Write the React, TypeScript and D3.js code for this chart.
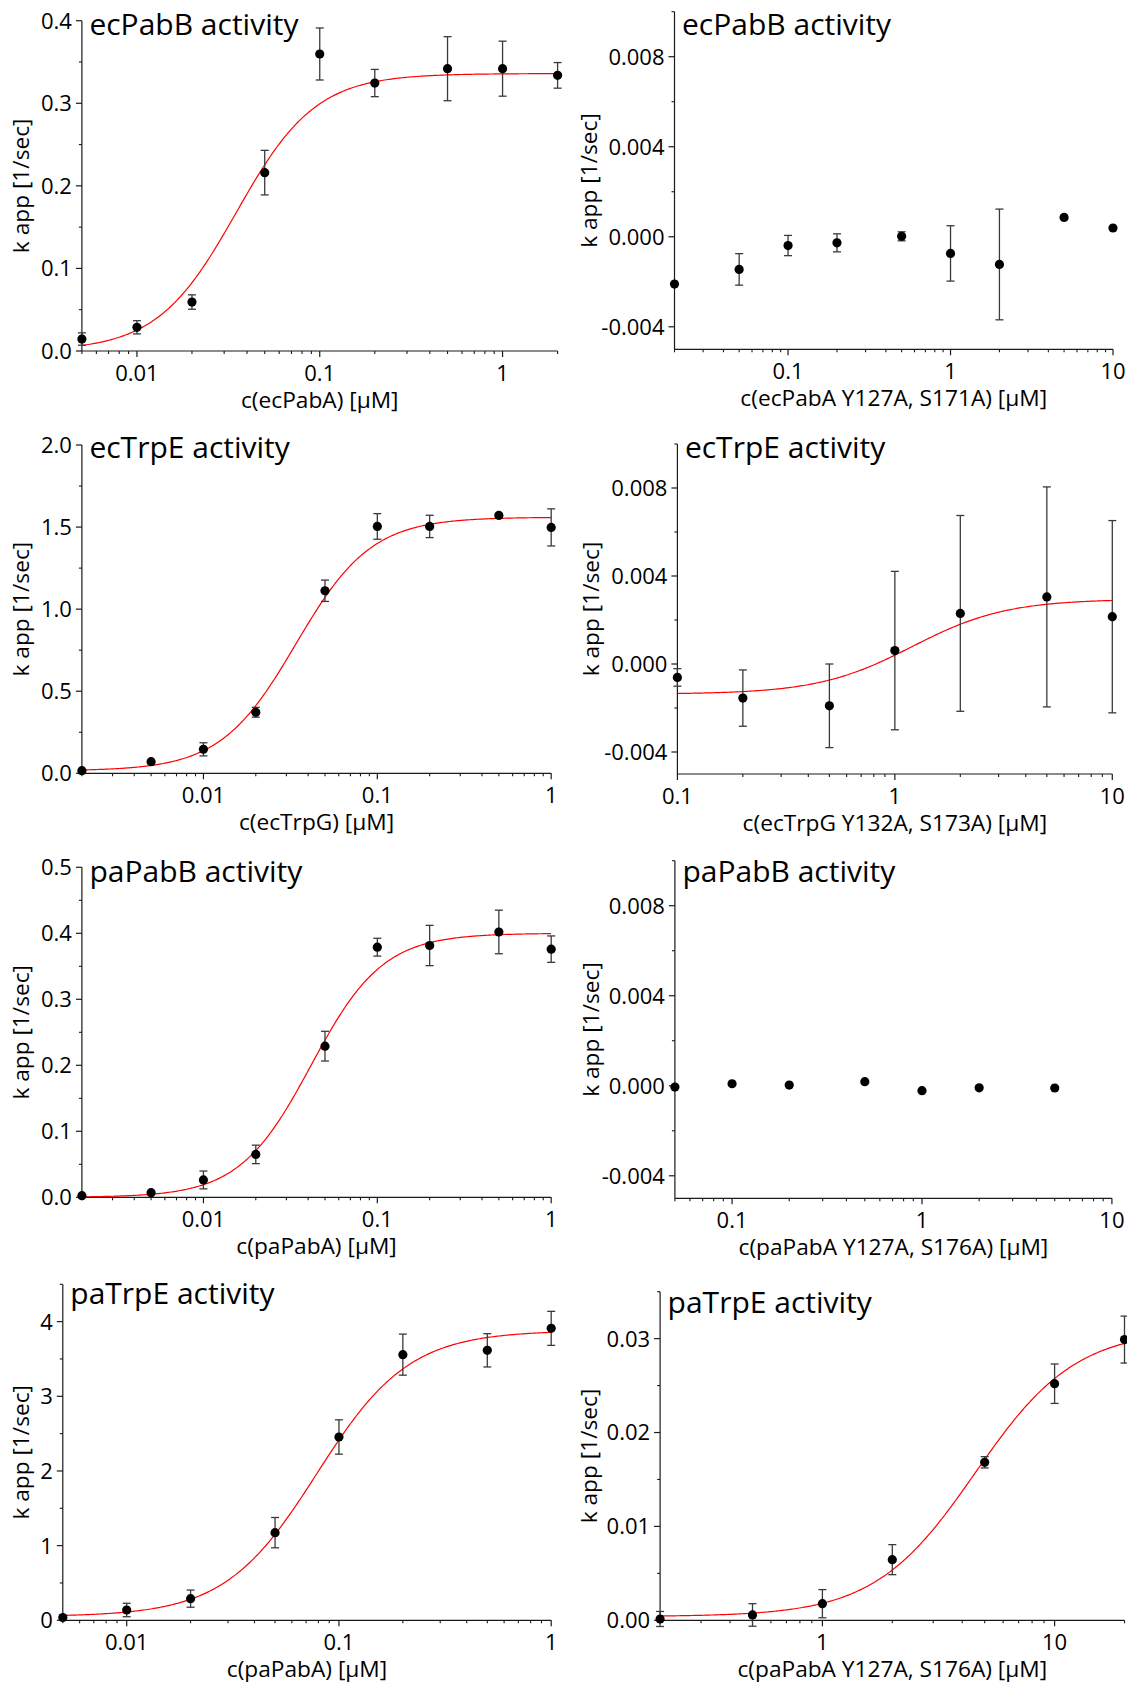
import React from 'react';
import * as d3 from 'd3';

// ---------- measured activities (k app, 1/sec) vs. glutaminase-subunit concentration (µM) ----------

// ecPabB activity with ecPabA
const ecPabB_conc = [0.005, 0.01, 0.02, 0.05, 0.1, 0.2, 0.5, 1, 2];
const ecPabB_kapp = [0.0145, 0.0287, 0.0593, 0.216, 0.3597, 0.3245, 0.3419, 0.3419, 0.3338];
const ecPabB_err = [0.0075, 0.008, 0.0087, 0.027, 0.0315, 0.0165, 0.0388, 0.0333, 0.0155];

// ecPabB activity with ecPabA Y127A, S171A
const ecPabBmut_conc = [0.02, 0.05, 0.1, 0.2, 0.5, 1, 2, 5, 10];
const ecPabBmut_kapp = [-0.0021, -0.00145, -0.00039, -0.00027, 0.00002, -0.00074, -0.00123, 0.00086, 0.00039];
const ecPabBmut_err = [0, 0.0007, 0.00045, 0.0004, 0.0002, 0.00123, 0.00246, 0, 0];

// ecTrpE activity with ecTrpG
const ecTrpE_conc = [0.002, 0.005, 0.01, 0.02, 0.05, 0.1, 0.2, 0.5, 1];
const ecTrpE_kapp = [0.016, 0.071, 0.146, 0.372, 1.112, 1.504, 1.504, 1.571, 1.498];
const ecTrpE_err = [0, 0, 0.04, 0.03, 0.065, 0.078, 0.068, 0.01, 0.113];

// ecTrpE activity with ecTrpG Y132A, S173A
const ecTrpEmut_conc = [0.1, 0.2, 0.5, 1, 2, 5, 10];
const ecTrpEmut_kapp = [-0.00061, -0.00155, -0.0019, 0.00061, 0.0023, 0.00305, 0.00215];
const ecTrpEmut_err = [0.0004, 0.00128, 0.0019, 0.0036, 0.00445, 0.005, 0.00437];

// paPabB activity with paPabA
const paPabB_conc = [0.002, 0.005, 0.01, 0.02, 0.05, 0.1, 0.2, 0.5, 1];
const paPabB_kapp = [0.0025, 0.007, 0.0263, 0.065, 0.229, 0.379, 0.3815, 0.402, 0.376];
const paPabB_err = [0, 0, 0.0135, 0.014, 0.0225, 0.0135, 0.0305, 0.033, 0.02];

// paPabB activity with paPabA Y127A, S176A
const paPabBmut_conc = [0.05, 0.1, 0.2, 0.5, 1, 2, 5];
const paPabBmut_kapp = [-0.00006, 0.00009, 0.00003, 0.00018, -0.00022, -0.00009, -0.0001];
const paPabBmut_err = [0, 0, 0, 0, 0, 0, 0];

// paTrpE activity with paPabA
const paTrpE_conc = [0.005, 0.01, 0.02, 0.05, 0.1, 0.2, 0.5, 1];
const paTrpE_kapp = [0.036, 0.138, 0.29, 1.174, 2.455, 3.558, 3.616, 3.91];
const paTrpE_err = [0, 0.09, 0.115, 0.203, 0.23, 0.275, 0.223, 0.228];

// paTrpE activity with paPabA Y127A, S176A
const paTrpEmut_conc = [0.2, 0.5, 1, 2, 5, 10, 20];
const paTrpEmut_kapp = [0.00014, 0.00057, 0.00177, 0.00646, 0.01683, 0.0252, 0.0299];
const paTrpEmut_err = [0.0008, 0.0012, 0.0015, 0.0016, 0.0006, 0.0021, 0.0025];

// Hill fit parameters: [bottom, top, K (µM), n]
const ecPabB_fit = [0, 0.336, 0.035, 2];
const ecTrpE_fit = [0.015, 1.56, 0.034, 2];
const ecTrpEmut_fit = [-0.00137, 0.00295, 1.2, 2];
const paPabB_fit = [0, 0.4, 0.0416, 2.1];
const paTrpE_fit = [0.05, 3.88, 0.0787, 2];
const paTrpEmut_fit = [0.0004, 0.031, 4.55, 2];

// tick labels
const yTicks_ecPabB = ['0.0', '0.1', '0.2', '0.3', '0.4'];
const yTicks_mut = ['-0.004', '0.000', '0.004', '0.008'];
const yTicks_ecTrpE = ['0.0', '0.5', '1.0', '1.5', '2.0'];
const yTicks_paPabB = ['0.0', '0.1', '0.2', '0.3', '0.4', '0.5'];
const yTicks_paTrpE = ['0', '1', '2', '3', '4'];
const yTicks_paTrpEmut = ['0.00', '0.01', '0.02', '0.03'];
const xTicks_low = ['0.01', '0.1', '1'];
const xTicks_high = ['0.1', '1', '10'];
const xTicks_paTrpEmut = ['1', '10'];

const FONT = "'Open Sans', 'Noto Sans', sans-serif";

type Panel = {
  title: string;
  xLabel: string;
  conc: number[];
  kapp: number[];
  err: number[];
  fit: number[] | null;
  xDomain: [number, number];
  yDomain: [number, number];
  xTicks: string[];
  yTicks: string[];
  yMinorStep: number;
  // layout (pixels)
  left: number;
  right: number;
  top: number;
  bottom: number;
  titleY: number;
  yLabelX: number;
};

const panels: Panel[] = [
  {
    title: 'ecPabB activity', xLabel: 'c(ecPabA) [µM]',
    conc: ecPabB_conc, kapp: ecPabB_kapp, err: ecPabB_err, fit: ecPabB_fit,
    xDomain: [0.005, 2], yDomain: [0, 0.4], xTicks: xTicks_low, yTicks: yTicks_ecPabB, yMinorStep: 0.05,
    left: 81.9, right: 557.6, top: 20.7, bottom: 351, titleY: 35, yLabelX: 29,
  },
  {
    title: 'ecPabB activity', xLabel: 'c(ecPabA Y127A, S171A) [µM]',
    conc: ecPabBmut_conc, kapp: ecPabBmut_kapp, err: ecPabBmut_err, fit: null,
    xDomain: [0.02, 10], yDomain: [-0.005, 0.01], xTicks: xTicks_high, yTicks: yTicks_mut, yMinorStep: 0.002,
    left: 674.5, right: 1113, top: 11.7, bottom: 349.3, titleY: 35, yLabelX: 597,
  },
  {
    title: 'ecTrpE activity', xLabel: 'c(ecTrpG) [µM]',
    conc: ecTrpE_conc, kapp: ecTrpE_kapp, err: ecTrpE_err, fit: ecTrpE_fit,
    xDomain: [0.002, 1], yDomain: [0, 2], xTicks: xTicks_low, yTicks: yTicks_ecTrpE, yMinorStep: 0.25,
    left: 81.9, right: 551.2, top: 445, bottom: 773.3, titleY: 458.3, yLabelX: 29,
  },
  {
    title: 'ecTrpE activity', xLabel: 'c(ecTrpG Y132A, S173A) [µM]',
    conc: ecTrpEmut_conc, kapp: ecTrpEmut_kapp, err: ecTrpEmut_err, fit: ecTrpEmut_fit,
    xDomain: [0.1, 10], yDomain: [-0.005, 0.01], xTicks: xTicks_high, yTicks: yTicks_mut, yMinorStep: 0.002,
    left: 677.4, right: 1112.3, top: 444, bottom: 774, titleY: 458.3, yLabelX: 599,
  },
  {
    title: 'paPabB activity', xLabel: 'c(paPabA) [µM]',
    conc: paPabB_conc, kapp: paPabB_kapp, err: paPabB_err, fit: paPabB_fit,
    xDomain: [0.002, 1], yDomain: [0, 0.5], xTicks: xTicks_low, yTicks: yTicks_paPabB, yMinorStep: 0.05,
    left: 81.9, right: 551.2, top: 867.3, bottom: 1197.3, titleY: 881.7, yLabelX: 29,
  },
  {
    title: 'paPabB activity', xLabel: 'c(paPabA Y127A, S176A) [µM]',
    conc: paPabBmut_conc, kapp: paPabBmut_kapp, err: paPabBmut_err, fit: null,
    xDomain: [0.05, 10], yDomain: [-0.005, 0.01], xTicks: xTicks_high, yTicks: yTicks_mut, yMinorStep: 0.002,
    left: 674.9, right: 1111.9, top: 860.7, bottom: 1198.3, titleY: 881.7, yLabelX: 599,
  },
  {
    title: 'paTrpE activity', xLabel: 'c(paPabA) [µM]',
    conc: paTrpE_conc, kapp: paTrpE_kapp, err: paTrpE_err, fit: paTrpE_fit,
    xDomain: [0.005, 1], yDomain: [0, 4.5], xTicks: xTicks_low, yTicks: yTicks_paTrpE, yMinorStep: 0.5,
    left: 62.8, right: 551.2, top: 1284.3, bottom: 1620.3, titleY: 1304.3, yLabelX: 29,
  },
  {
    title: 'paTrpE activity', xLabel: 'c(paPabA Y127A, S176A) [µM]',
    conc: paTrpEmut_conc, kapp: paTrpEmut_kapp, err: paTrpEmut_err, fit: paTrpEmut_fit,
    xDomain: [0.2, 20], yDomain: [0, 0.035], xTicks: xTicks_paTrpEmut, yTicks: yTicks_paTrpEmut, yMinorStep: 0.005,
    left: 660.1, right: 1124.5, top: 1291.7, bottom: 1620.3, titleY: 1313.3, yLabelX: 597,
  },
];

const hill = (p: number[], x: number) => {
  const [b, t, k, n] = p;
  const r = Math.pow(x / k, n);
  return b + (t - b) * r / (1 + r);
};

function logMinorTicks(domain: [number, number]): number[] {
  const out: number[] = [];
  const lo = Math.floor(Math.log10(domain[0]));
  const hi = Math.ceil(Math.log10(domain[1]));
  for (let e = lo; e <= hi; e++) {
    for (let m = 2; m <= 9; m++) {
      const v = m * Math.pow(10, e);
      if (v >= domain[0] * 0.999 && v <= domain[1] * 1.001) out.push(v);
    }
  }
  return out;
}

function PanelView({ p, idx }: { p: Panel; idx: number }) {
  const x = d3.scaleLog().domain(p.xDomain).range([p.left, p.right]);
  const y = d3.scaleLinear().domain(p.yDomain).range([p.bottom, p.top]);
  const axisColor = '#1a1a1a';
  const errColor = '#3a3a3a';
  const tickFont = 22;
  const labelFont = 22.7;

  const xMajor = p.xTicks.map(Number);
  const xMinor = logMinorTicks(p.xDomain);
  const yMajor = p.yTicks.map(Number);
  const yMinor: number[] = [];
  const nMin = Math.ceil(p.yDomain[0] / p.yMinorStep - 1e-6);
  const nMax = Math.floor(p.yDomain[1] / p.yMinorStep + 1e-6);
  for (let i = nMin; i <= nMax; i++) {
    const v = i * p.yMinorStep;
    if (!yMajor.some((m) => Math.abs(m - v) < p.yMinorStep * 1e-3)) yMinor.push(v);
  }

  let curve: string | null = null;
  if (p.fit) {
    const fit = p.fit;
    const [lo, hi] = p.xDomain.map(Math.log10);
    const xs = d3.range(0, 301).map((i) => Math.pow(10, lo + ((hi - lo) * i) / 300));
    const line = d3
      .line<number>()
      .x((v) => x(v))
      .y((v) => y(hill(fit, v)));
    curve = line(xs);
  }

  const cx = (p.left + p.right) / 2;
  const cy = (p.top + p.bottom) / 2;
  const clipId = `plot-clip-${idx}`;

  return (
    <g>
      <defs>
        <clipPath id={clipId}>
          <rect x={p.left} y={p.top - 2} width={p.right - p.left} height={p.bottom - p.top + 2} />
        </clipPath>
      </defs>

      {/* axes */}
      <line x1={p.left} x2={p.left} y1={p.top} y2={p.bottom} stroke={axisColor} strokeWidth={1.2} />
      <line x1={p.left} x2={p.right} y1={p.bottom} y2={p.bottom} stroke={axisColor} strokeWidth={1.2} />

      {yMajor.map((v, i) => (
        <g key={`ym${i}`}>
          <line x1={p.left - 6} x2={p.left} y1={y(v)} y2={y(v)} stroke={axisColor} strokeWidth={1.2} />
          <text x={p.left - 10} y={y(v)} dy="0.36em" textAnchor="end" fontSize={tickFont} fontFamily={FONT} fill="#000">
            {p.yTicks[i]}
          </text>
        </g>
      ))}
      {yMinor.map((v, i) => (
        <line key={`yn${i}`} x1={p.left - 3} x2={p.left} y1={y(v)} y2={y(v)} stroke={axisColor} strokeWidth={1.1} />
      ))}

      {xMajor.map((v, i) => (
        <g key={`xm${i}`}>
          <line x1={x(v)} x2={x(v)} y1={p.bottom} y2={p.bottom + 6} stroke={axisColor} strokeWidth={1.2} />
          <text x={x(v)} y={p.bottom + 30} textAnchor="middle" fontSize={tickFont} fontFamily={FONT} fill="#000">
            {p.xTicks[i]}
          </text>
        </g>
      ))}
      {xMinor.map((v, i) => (
        <line key={`xn${i}`} x1={x(v)} x2={x(v)} y1={p.bottom} y2={p.bottom + 3} stroke={axisColor} strokeWidth={1.1} />
      ))}

      {/* axis titles */}
      <text x={cx} y={p.bottom + 57} textAnchor="middle" fontSize={labelFont} fontFamily={FONT} fill="#000">
        {p.xLabel}
      </text>
      <text
        transform={`translate(${p.yLabelX},${cy}) rotate(-90)`}
        textAnchor="middle"
        fontSize={labelFont}
        fontFamily={FONT}
        fill="#000"
      >
        k app [1/sec]
      </text>

      {/* panel title */}
      <text x={p.left + 7.5} y={p.titleY} fontSize={30} fontFamily={FONT} fill="#000">
        {p.title}
      </text>

      {/* fitted curve */}
      {curve && (
        <path d={curve} fill="none" stroke="#ff0000" strokeWidth={1.2} clipPath={`url(#${clipId})`} />
      )}

      {/* error bars */}
      {p.conc.map((c, i) =>
        p.err[i] > 0 ? (
          <g key={`e${i}`} stroke={errColor} strokeWidth={1.3}>
            <line x1={x(c)} x2={x(c)} y1={y(p.kapp[i] - p.err[i])} y2={y(p.kapp[i] + p.err[i])} />
            <line x1={x(c) - 4} x2={x(c) + 4} y1={y(p.kapp[i] + p.err[i])} y2={y(p.kapp[i] + p.err[i])} />
            <line x1={x(c) - 4} x2={x(c) + 4} y1={y(p.kapp[i] - p.err[i])} y2={y(p.kapp[i] - p.err[i])} />
          </g>
        ) : null
      )}

      {/* data points */}
      {p.conc.map((c, i) => (
        <circle key={`p${i}`} cx={x(c)} cy={y(p.kapp[i])} r={4.6} fill="#000" />
      ))}
    </g>
  );
}

export default function App() {
  return (
    <svg
      width={1127}
      height={1686}
      viewBox="0 0 1127 1686"
      style={{ position: 'absolute', left: 0, top: 0, background: '#fff' }}
    >
      <rect x={0} y={0} width={1127} height={1686} fill="#fff" />
      {panels.map((p, i) => (
        <PanelView key={i} p={p} idx={i} />
      ))}
    </svg>
  );
}
